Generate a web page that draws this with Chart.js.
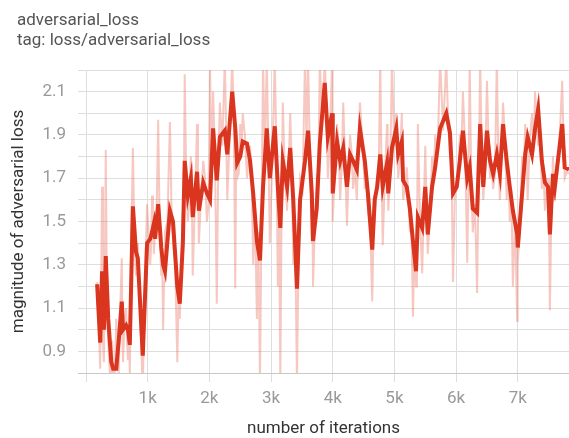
<!DOCTYPE html>
<html>
<head>
<meta charset="utf-8">
<script src="https://cdn.jsdelivr.net/npm/chart.js@4.4.1/dist/chart.umd.min.js"></script>
<style>
  html, body { margin: 0; padding: 0; background: #fff; }
  #wrap { position: absolute; left: 0; top: 0; width: 569px; height: 438px; }
  #head { position: absolute; left: 17px; top: 9px; z-index: 2;
          font-family: Roboto, sans-serif; font-size: 17px; line-height: 20px; color: #555; }
</style>
</head>
<body>
<div id="head">
  <div>adversarial_loss</div>
  <div>tag: loss/adversarial_loss</div>
</div>
<div id="wrap"><canvas id="lossChart"></canvas></div>
<script>
  /* ── Data ────────────────────────────────────────────────── */
  const steps = [
    180, 230, 260, 290, 320, 360, 410, 440, 490, 530, 580, 600, 650, 680, 710, 760, 810, 840, 920, 990,
    1040, 1070, 1100, 1120, 1170, 1220, 1250, 1280, 1360, 1410, 1480, 1520, 1570, 1600, 1650, 1700, 1730, 1800, 1830, 1900,
    1960, 2010, 2060, 2120, 2170, 2250, 2290, 2370, 2420, 2450, 2500, 2540, 2610, 2660, 2710, 2770, 2820, 2870, 2930, 2980,
    3060, 3110, 3150, 3190, 3260, 3310, 3360, 3420, 3470, 3550, 3600, 3660, 3680, 3740, 3790, 3870, 3920, 3990, 4000, 4070,
    4120, 4170, 4230, 4280, 4330, 4390, 4440, 4520, 4570, 4640, 4680, 4720, 4770, 4810, 4880, 4900, 4960, 5030, 5060, 5120,
    5140, 5200, 5250, 5300, 5350, 5380, 5450, 5500, 5540, 5610, 5660, 5740, 5840, 5900, 5950, 6010, 6060, 6110, 6180, 6220,
    6270, 6340, 6390, 6440, 6500, 6550, 6600, 6660, 6710, 6760, 6820, 6870, 6920, 6990, 7000, 7070, 7120, 7160, 7230, 7280,
    7330, 7390, 7440, 7490, 7520, 7570, 7600, 7720, 7760, 7830
  ];

  const smoothed = [
    1.21, 0.94, 1.27, 1.00, 1.34, 1.05, 0.85, 0.82, 0.82, 0.95, 1.13, 1.00, 1.02, 1.00, 0.93, 1.57, 1.36, 1.33, 0.88, 1.40,
    1.42, 1.45, 1.49, 1.42, 1.58, 1.38, 1.30, 1.27, 1.55, 1.50, 1.20, 1.12, 1.40, 1.78, 1.62, 1.70, 1.52, 1.73, 1.55, 1.68,
    1.63, 1.60, 1.93, 1.69, 1.89, 1.92, 1.81, 2.10, 1.93, 1.77, 1.80, 1.87, 1.86, 1.78, 1.63, 1.41, 1.32, 1.66, 1.93, 1.70,
    1.94, 1.66, 1.47, 1.78, 1.66, 1.84, 1.60, 1.19, 1.60, 1.78, 1.92, 1.63, 1.41, 1.56, 1.86, 2.14, 1.89, 2.00, 1.63, 1.87,
    1.78, 1.84, 1.66, 1.81, 1.78, 1.74, 1.93, 1.78, 1.63, 1.37, 1.60, 1.66, 1.81, 1.66, 1.77, 1.63, 1.84, 1.93, 1.81, 1.87,
    1.69, 1.66, 1.56, 1.41, 1.27, 1.52, 1.47, 1.66, 1.44, 1.66, 1.75, 1.93, 2.00, 1.91, 1.63, 1.66, 1.78, 1.92, 1.70, 1.75,
    1.56, 1.54, 1.95, 1.66, 1.92, 1.78, 1.72, 1.81, 1.72, 1.95, 1.78, 1.66, 1.55, 1.44, 1.38, 1.63, 1.81, 1.89, 1.81, 1.93,
    2.02, 1.78, 1.68, 1.66, 1.44, 1.72, 1.66, 1.95, 1.75, 1.74
  ];

  // raw values at each step
  const raw = [
    1.22, 0.82, 1.66, 0.85, 1.83, 0.95, 0.78, 0.75, 1.05, 0.80, 1.33, 0.85, 1.10, 0.86, 0.78, 1.84, 1.25, 1.40, 0.72, 1.58,
    1.30, 1.62, 1.35, 1.50, 1.97, 1.25, 1.00, 1.45, 1.96, 1.40, 0.85, 1.05, 1.55, 2.18, 1.50, 1.80, 1.25, 1.95, 1.40, 1.78,
    1.50, 2.22, 2.10, 1.12, 2.05, 2.25, 1.60, 2.25, 1.19, 1.70, 1.95, 2.00, 1.70, 1.85, 1.30, 1.05, 0.75, 2.25, 2.25, 1.40,
    2.25, 1.20, 0.75, 2.05, 1.55, 2.00, 1.30, 0.75, 1.70, 2.25, 2.25, 1.40, 1.20, 1.70, 2.25, 2.25, 1.70, 2.25, 1.50, 1.95,
    1.60, 2.05, 1.48, 1.90, 1.65, 1.60, 2.05, 1.65, 1.55, 1.13, 1.50, 1.70, 2.25, 1.39, 1.95, 1.55, 2.25, 2.00, 1.70, 2.00,
    1.60, 1.75, 1.45, 1.06, 1.20, 1.95, 1.26, 1.85, 1.35, 1.80, 1.90, 2.25, 2.25, 1.80, 1.22, 1.70, 1.90, 2.10, 1.31, 2.25,
    1.45, 1.17, 2.25, 1.60, 2.15, 1.70, 1.65, 2.25, 1.60, 2.05, 1.60, 1.50, 1.20, 1.04, 1.30, 1.80, 1.95, 1.60, 2.00, 2.10,
    1.85, 1.65, 1.55, 1.70, 1.09, 1.80, 1.60, 2.15, 1.70, 1.72
  ];

  // raw values logged half-way between consecutive steps
  const rawMid = [
    1.05, 1.20, 0.95, 1.25, 1.10, 0.80, 0.95, 0.78, 0.88, 1.10, 0.95, 1.05, 0.95, 1.02, 1.45, 1.42, 1.30, 1.05, 1.20, 1.45,
    1.38, 1.52, 1.40, 1.55, 1.45, 1.35, 1.22, 1.50, 1.58, 1.30, 1.15, 1.30, 1.60, 1.70, 1.60, 1.62, 1.58, 1.65, 1.62, 1.70,
    1.58, 1.75, 1.80, 1.78, 1.85, 1.95, 1.90, 2.00, 1.85, 1.72, 1.82, 1.90, 1.80, 1.70, 1.55, 1.45, 1.50, 1.80, 1.85, 1.78,
    1.85, 1.60, 1.55, 1.70, 1.75, 1.78, 1.45, 1.35, 1.65, 1.85, 1.80, 1.55, 1.48, 1.68, 1.95, 2.05, 1.92, 1.80, 1.72, 1.85,
    1.76, 1.78, 1.70, 1.82, 1.75, 1.82, 1.88, 1.72, 1.50, 1.45, 1.62, 1.72, 1.75, 1.70, 1.72, 1.72, 1.85, 1.88, 1.80, 1.80,
    1.65, 1.62, 1.50, 1.38, 1.40, 1.50, 1.55, 1.58, 1.52, 1.68, 1.82, 1.92, 1.98, 1.78, 1.62, 1.70, 1.82, 1.85, 1.68, 1.70,
    1.58, 1.70, 1.82, 1.75, 1.88, 1.75, 1.72, 1.78, 1.80, 1.90, 1.75, 1.65, 1.52, 1.45, 1.48, 1.70, 1.85, 1.88, 1.82, 1.95,
    1.92, 1.75, 1.65, 1.58, 1.55, 1.70, 1.78, 1.88, 1.73
  ];

  const xTicks = [0, 1000, 2000, 3000, 4000, 5000, 6000, 7000];

  const SMOOTH = '#d9351f';
  const RAW = 'rgba(233, 110, 92, 0.38)';
  const GRID = '#dedede';
  const font = size => ({ family: 'Roboto, sans-serif', size: size });

  function rawPoints() {
    const pts = [];
    steps.forEach((s, i) => {
      pts.push({ x: s, y: raw[i] });
      if (i < rawMid.length) pts.push({ x: (s + steps[i + 1]) / 2, y: rawMid[i] });
    });
    return pts;
  }

  function initLossChart() {
    const ctx = document.getElementById('lossChart');
    new Chart(ctx, {
      type: 'line',
      data: {
        datasets: [
          {
            label: 'smoothed',
            data: steps.map((s, i) => ({ x: s, y: smoothed[i] })),
            borderColor: SMOOTH,
            borderWidth: 4,
            pointRadius: 0,
            tension: 0,
          },
          {
            label: 'raw',
            data: rawPoints(),
            borderColor: RAW,
            borderWidth: 2,
            pointRadius: 0,
            tension: 0,
          }
        ]
      },
      options: {
        responsive: true,
        maintainAspectRatio: false,
        animation: false,
        layout: { padding: { top: 70, right: 0, left: 0, bottom: 0 } },
        plugins: { legend: { display: false }, tooltip: { enabled: false } },
        scales: {
          x: {
            type: 'linear',
            min: -130,
            max: 7830,
            afterBuildTicks: s => { s.ticks = xTicks.map(v => ({ value: v })); },
            afterFit: s => { s.height = 65; },
            grid: { color: GRID, tickLength: 9, tickColor: GRID },
            border: { display: true, color: '#c8c8c8' },
            ticks: {
              font: font(17), color: '#999', padding: 7, maxRotation: 0, autoSkip: false,
              callback: v => v === 0 ? '' : (v / 1000) + 'k'
            },
            title: {
              display: true, text: 'number of iterations', color: '#333',
              font: { ...font(17), lineHeight: 1.1 }, padding: { top: 0, bottom: 0 }
            }
          },
          y: {
            min: 0.8,
            max: 2.2,
            afterFit: s => { s.width = 78; },
            grid: { color: GRID, drawTicks: false },
            border: { display: false },
            ticks: {
              stepSize: 0.1, font: font(17), color: '#999', padding: 12, autoSkip: false,
              callback: v => { const t = Math.round(v * 10); return t % 2 === 1 ? (t / 10).toFixed(1) : ''; }
            },
            title: {
              display: true, text: 'magnitude of adversarial loss', color: '#333',
              font: { ...font(17), lineHeight: 1.1 }, padding: { top: 9, bottom: 0 }
            }
          }
        }
      }
    });
  }

  document.addEventListener('DOMContentLoaded', initLossChart);
</script>
</body>
</html>
